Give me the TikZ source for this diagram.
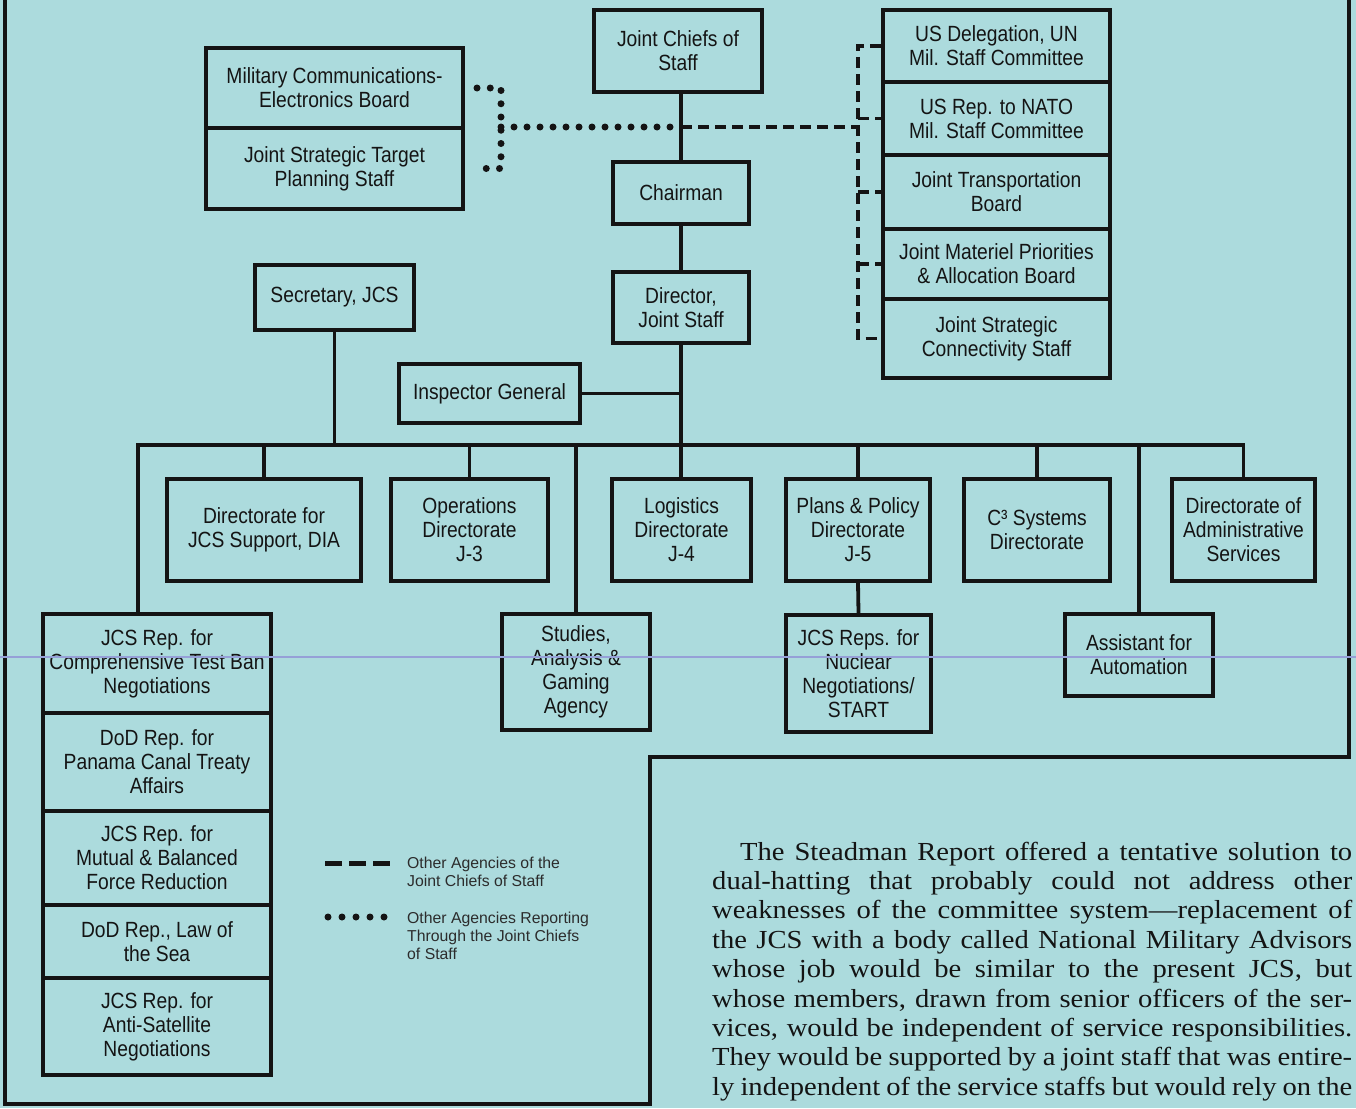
\documentclass[tikz,border=0pt]{standalone}
\usepackage{fontspec}
\newfontfamily\condfont{Liberation Sans}[FakeStretch=0.875]
\newfontfamily\legfont{Liberation Sans}
\newfontfamily\bodyfont{Liberation Serif}[FakeStretch=1.1]
\definecolor{bg}{RGB}{172,219,221}
\definecolor{ink}{RGB}{20,20,20}
\definecolor{seam}{RGB}{150,160,215}
\tikzset{
 box/.style={draw=ink, line width=4pt, align=center, inner sep=0pt, text=ink, font=\condfont\fontsize{22}{24}\selectfont},
 conn/.style={draw=ink, line width=3.8pt},
 dotline/.style={draw=ink, line width=7pt, line cap=round, dash pattern=on 0pt off 13pt},
 dashline/.style={draw=ink, line width=3.8pt, dash pattern=on 11pt off 6pt},
 frameline/.style={draw=ink, line width=3.5pt},
 leg/.style={align=left, inner sep=0pt, text=ink!90, font=\legfont\fontsize{15.8}{18}\selectfont},
}
\newcommand{\mkbox}[6]{\node[box, minimum width={#4-#2}, minimum height={#5-#3}] (#1) at ({(#2+#4)/2},{(#3+#5)/2}) {#6};}
\begin{document}
\begin{tikzpicture}[x=1pt,y=-1pt]
\useasboundingbox (0,0) rectangle (1356,1108);
\fill[bg] (0,0) rectangle (1356,1108);
% frame
\draw[frameline] (5,-5) -- (5,1104) -- (650,1104) -- (650,757) -- (1349,757) -- (1349,-5);
% boxes
\mkbox{jcs}{594}{10}{762}{92}{Joint Chiefs of\\Staff}
\mkbox{chair}{613}{162}{749}{224}{Chairman}
\mkbox{dir}{613}{272}{749}{343}{Director,\\Joint Staff}
\mkbox{mceb}{206}{48}{463}{128}{Military Communications-\\Electronics Board}
\mkbox{jstps}{206}{128}{463}{209}{Joint Strategic Target\\Planning Staff}
\mkbox{usun}{883}{10}{1110}{82}{US Delegation, UN\\Mil. Staff Committee}
\mkbox{nato}{883}{82}{1110}{155}{US Rep. to NATO\\Mil. Staff Committee}
\mkbox{jtb}{883}{155}{1110}{229}{Joint Transportation\\Board}
\mkbox{jmp}{883}{229}{1110}{299}{Joint Materiel Priorities\\\& Allocation Board}
\mkbox{jscs}{883}{299}{1110}{378}{Joint Strategic\\Connectivity Staff}
\mkbox{sec}{255}{265}{414}{330}{Secretary, JCS}
\mkbox{ig}{399}{364}{580}{423}{Inspector General}
\mkbox{dia}{167}{479}{361}{581}{Directorate for\\JCS Support, DIA}
\mkbox{j3}{391}{479}{548}{581}{Operations\\Directorate\\J-3}
\mkbox{j4}{612}{479}{751}{581}{Logistics\\Directorate\\J-4}
\mkbox{j5}{786}{479}{930}{581}{Plans \& Policy\\Directorate\\J-5}
\mkbox{c3}{964}{479}{1110}{581}{C³ Systems\\Directorate}
\mkbox{das}{1172}{479}{1315}{581}{Directorate of\\Administrative\\Services}
\mkbox{saga}{502}{614}{650}{730}{Studies,\\Analysis \&\\Gaming\\Agency}
\mkbox{nuc}{786}{615}{931}{732}{JCS Reps. for\\Nuclear\\Negotiations/\\START}
\mkbox{auto}{1065}{614}{1213}{696}{Assistant for\\Automation}
\mkbox{ctb}{43}{614}{271}{713}{JCS Rep. for\\Comprehensive Test Ban\\Negotiations}
\mkbox{pan}{43}{713}{271}{811}{DoD Rep. for\\Panama Canal Treaty\\Affairs}
\mkbox{mbfr}{43}{811}{271}{905}{JCS Rep. for\\Mutual \& Balanced\\Force Reduction}
\mkbox{los}{43}{905}{271}{978}{DoD Rep., Law of\\the Sea}
\mkbox{asat}{43}{978}{271}{1075}{JCS Rep. for\\Anti-Satellite\\Negotiations}
% connectors
\coordinate (bus) at (681,445);
\coordinate (lft) at (138,445);
\draw[conn] (jcs.south -| bus) -- (chair.north -| bus);
\draw[conn] (chair.south -| bus) -- (dir.north -| bus);
\draw[conn] (dir.south -| bus) -- (j4.north -| bus);
\draw[conn] (ig.east) -- (ig.east -| bus);
\draw[conn] (sec.south) -- (sec.south |- bus);
\draw[conn] (lft |- ctb.north) -- (lft) -- (das.north |- lft) -- (das.north);
\foreach \n in {dia,j3,saga,j5,c3,auto} \draw[conn] (\n.north |- bus) -- (\n.north);
\draw[conn] (j5.south) -- (nuc.north);
% dotted reporting links
\coordinate (bx) at (501,127);
\coordinate (dm) at (681,127);
\coordinate (dr) at (858,127);
\draw[dotline, dash pattern=on 0pt off 13.25pt] ([xshift=12pt]mceb.east) -- (mceb.east -| bx) -- (jstps.east -| bx) -- ([xshift=12pt]jstps.east);
\draw[dotline] (bx) -- (dm);
% dashed agency links
\draw[dashline] (dm) -- (dr);
\draw[dashline] (usun.west) -- (usun.west -| dr) -- (jscs.west -| dr) -- (jscs.west);
\foreach \n in {nato,jtb,jmp} \draw[dashline] (\n.west -| dr) -- (\n.west);
% legend
\draw[draw=ink, line width=5pt, dash pattern=on 17pt off 7pt] (325,863) -- (390,863);
\node[leg, anchor=west] (leg1) at (407,872) {Other Agencies of the\\Joint Chiefs of Staff};
\draw[draw=ink, line width=7pt, line cap=round, dash pattern=on 0pt off 14pt] (328,917) -- (384.5,917);
\node[leg, anchor=west] (leg2) at (407,936) {Other Agencies Reporting\\Through the Joint Chiefs\\of Staff};
% paragraph
\node[anchor=base west, inner sep=0pt, text=ink, font=\bodyfont\fontsize{26}{29.4}\selectfont] (para) at (712,860) {\parbox[t]{640pt}{\baselineskip=29.4pt
\hspace*{28pt}\makebox[612pt][s]{The Steadman Report offered a tentative solution to}\\
\makebox[640pt][s]{dual-hatting that probably could not address other}\\
\makebox[640pt][s]{weaknesses of the committee system—replacement of}\\
\makebox[640pt][s]{the JCS with a body called National Military Advisors}\\
\makebox[640pt][s]{whose job would be similar to the present JCS, but}\\
\makebox[640pt][s]{whose members, drawn from senior officers of the ser-}\\
\makebox[640pt][s]{vices, would be independent of service responsibilities.}\\
\makebox[640pt][s]{They would be supported by a joint staff that was entire-}\\
\makebox[640pt][s]{ly independent of the service staffs but would rely on the}}};
% scan seam
\draw[seam, line width=1.5pt] (0,657) -- (1356,657);
\end{tikzpicture}
\end{document}
